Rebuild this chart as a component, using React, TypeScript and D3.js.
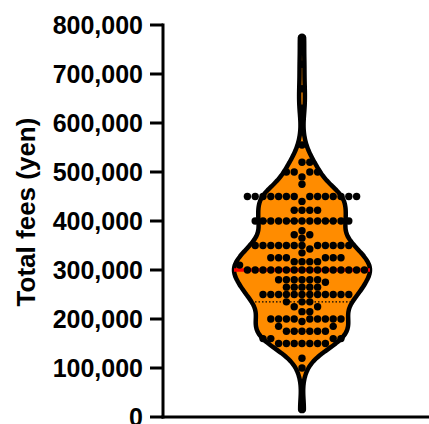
import React from "react";
import * as d3 from "d3";

// Fee values (yen) and how many patients share each value
const feeLevels: number[] = [
  775000, 720000, 670000, 630000,
  555000, 520000, 500000, 490000, 475000, 450000, 440000, 422000, 400000,
  380000, 372000, 365000, 350000, 343000, 335000, 325000, 317000, 310000,
  300000, 280000, 275000, 265000, 250000, 235000, 225000, 215000,
  200000, 195000, 185000, 175000, 160000, 150000, 120000, 100000, 15000,
];
const feeCounts: number[] = [
  1, 1, 1, 1,
  1, 2, 4, 1, 1, 14, 1, 4, 13,
  1, 2, 1, 12, 1, 1, 6, 4, 1,
  16, 6, 1, 5, 12, 3, 2, 2,
  9, 1, 2, 6, 4, 7, 1, 1, 1,
];
const yTicks: number[] = [0, 100000, 200000, 300000, 400000, 500000, 600000, 700000, 800000];
const yTitle = "Total fees (yen)";

const W = 429;
const H = 424;
const axisX = 163;
const cx = 302;
const maxHalf = 68;

export default function App() {
  const values: number[] = [];
  feeLevels.forEach((v, i) => {
    for (let k = 0; k < feeCounts[i]; k++) values.push(v);
  });
  const sorted = values.slice().sort((a, b) => a - b);

  const y = d3.scaleLinear().domain([0, 800000]).range([417, 25]);

  // KDE
  const bw = 27000;
  const kern = (u: number) => Math.exp(-0.5 * u * u);
  const lo = d3.min(sorted) as number;
  const hi = d3.max(sorted) as number;
  const grid = d3.range(lo, hi, 2500).concat([hi]);
  const dens = grid.map((g) => d3.sum(sorted, (v) => kern((g - v) / bw)));
  const maxD = d3.max(dens) as number;
  const wScale = d3.scaleLinear().domain([0, maxD]).range([0, maxHalf]);
  const pts = grid.map((g, i) => ({ v: g, w: wScale(dens[i]) }));
  const area = d3
    .area<{ v: number; w: number }>()
    .y((d) => y(d.v))
    .x0((d) => cx - d.w)
    .x1((d) => cx + d.w)
    .curve(d3.curveBasis);
  const widthAt = (v: number) => wScale(d3.sum(sorted, (s) => kern((v - s) / bw)));

  const med = d3.quantileSorted(sorted, 0.5) as number;
  const q1 = d3.quantileSorted(sorted, 0.25) as number;
  const q3 = d3.quantileSorted(sorted, 0.75) as number;

  // swarm layout
  const step = 7.8;
  const minD = 7.2;
  const placed: { x: number; y: number }[] = [];
  sorted.forEach((v) => {
    const py = y(v);
    for (let j = 0; j < 60; j++) {
      const k = j === 0 ? 0 : j % 2 === 1 ? (j + 1) / 2 : -j / 2;
      const px = cx + k * step;
      const ok = placed.every((p) => (p.x - px) ** 2 + (p.y - py) ** 2 >= minD * minD);
      if (ok) {
        placed.push({ x: px, y: py });
        break;
      }
    }
  });

  const font = "Arial, 'Liberation Sans', Helvetica, sans-serif";
  const fmt = d3.format(",");

  return (
    <svg
      width={W}
      height={H}
      style={{ position: "absolute", left: 0, top: 0, background: "#fff" }}
    >
      <path d={area(pts) || ""} fill="#FF8C00" stroke="#000" strokeWidth={4.5} strokeLinejoin="round" />
      {[q1, q3].map((q, i) => (
        <line
          key={i}
          x1={cx - widthAt(q)}
          x2={cx + widthAt(q)}
          y1={y(q)}
          y2={y(q)}
          stroke="#000"
          strokeWidth={1.3}
          strokeDasharray="1.5,2"
        />
      ))}
      <line
        x1={cx - widthAt(med)}
        x2={cx + widthAt(med)}
        y1={y(med)}
        y2={y(med)}
        stroke="#FF0000"
        strokeWidth={3.5}
      />
      {placed.map((p, i) => (
        <circle key={i} cx={p.x} cy={p.y} r={3.7} fill="#000" />
      ))}
      {/* axes */}
      <line x1={axisX} x2={axisX} y1={y(800000) - 1.5} y2={y(0) + 1.5} stroke="#000" strokeWidth={3} />
      <line x1={axisX - 1.5} x2={W} y1={y(0)} y2={y(0)} stroke="#000" strokeWidth={3} />
      {yTicks.map((t) => (
        <g key={t}>
          <line x1={axisX - 13} x2={axisX} y1={y(t)} y2={y(t)} stroke="#000" strokeWidth={3} />
          <text
            x={143}
            y={y(t)}
            dy="0.36em"
            textAnchor="end"
            fontFamily={font}
            fontWeight="bold"
            fontSize={25}
            fill="#000"
          >
            {fmt(t)}
          </text>
        </g>
      ))}
      <text
        transform={`translate(35,212) rotate(-90)`}
        textAnchor="middle"
        fontFamily={font}
        fontWeight="bold"
        fontSize={26}
        fill="#000"
      >
        {yTitle}
      </text>
    </svg>
  );
}
